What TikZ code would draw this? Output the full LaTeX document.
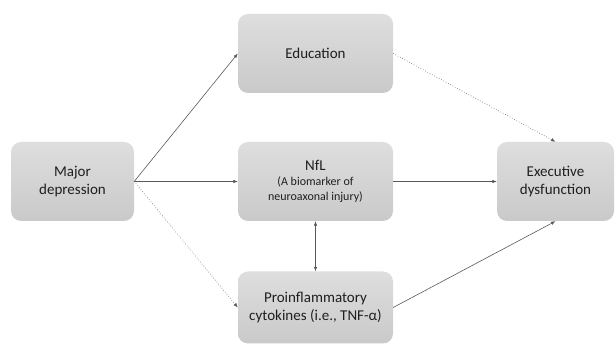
\documentclass[tikz,border=0pt]{standalone}
\usepackage{fontspec}
\setmainfont{Carlito}
\usetikzlibrary{arrows.meta}

\tikzset{
    box/.style={rounded corners=10pt, top color=gray!26, bottom color=gray!42,
        text=black!88, align=center, inner sep=2pt,
        font=\fontsize{15}{17.5}\selectfont},
    link/.style={draw=black!65, line width=0.6pt, -{Latex[length=4.5pt,width=3.5pt]}},
    dotlink/.style={link, dotted}
}

\begin{document}
\begin{tikzpicture}[x=1pt, y=-1pt]
    \useasboundingbox (0,0) rectangle (616,344);

    % boxes
    \node[box, minimum width=123, minimum height=79] (MD) at (72.5,181.5) {Major\\depression};
    \node[box, minimum width=155, minimum height=79] (ED) at (315.5,53.5) {Education};
    \node[box, minimum width=155, minimum height=79, font=\fontsize{15}{15}\selectfont] (NF) at (315.5,181.5)
        {NfL\\\fontsize{12}{15}\selectfont (A biomarker of\\\fontsize{12}{15}\selectfont neuroaxonal injury)};
    \node[box, minimum width=155, minimum height=72] (PC) at (315.5,307.5)
        {Proinflammatory\\cytokines (i.e., TNF-α)};
    \node[box, minimum width=117, minimum height=79] (EX) at (555.5,181.5) {Executive\\dysfunction};

    % paths
    \draw[link] (MD.east) -- (ED.west);
    \draw[link] (MD.east) -- (NF.west);
    \draw[dotlink] (MD.east) -- (PC.west);
    \draw[dotlink] (ED.east) -- (EX.north);
    \draw[link] (NF.east) -- (EX.west);
    \draw[link] (PC.east) -- (EX.south);
    \draw[link, {Latex[length=4.5pt,width=3.5pt]}-{Latex[length=4.5pt,width=3.5pt]}] (NF.south) -- (PC.north);

\end{tikzpicture}
\end{document}
